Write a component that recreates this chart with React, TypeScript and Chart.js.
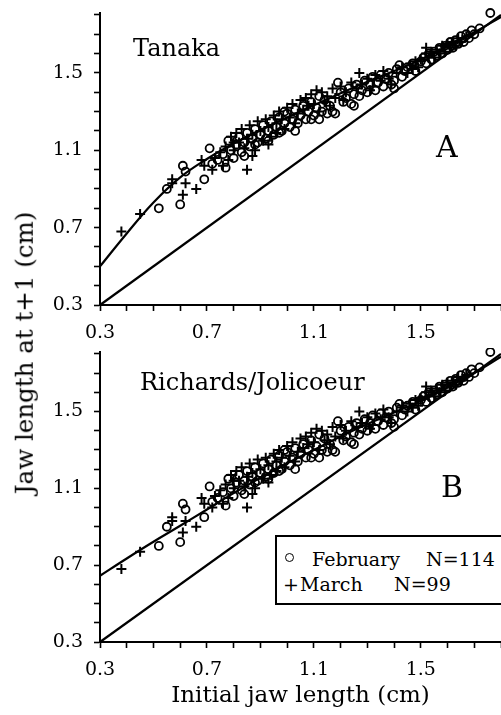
import React, { useEffect, useRef } from 'react';
import { Chart, registerables } from 'chart.js';

Chart.register(...registerables);

const FONT = '"DejaVu Serif", serif';

// Axis ticks
const xTickValues = [0.3, 0.4, 0.5, 0.6, 0.7, 0.8, 0.9, 1.0, 1.1, 1.2, 1.3, 1.4, 1.5, 1.6, 1.7, 1.8];
const yTickValues = [0.3, 0.4, 0.5, 0.6, 0.7, 0.8, 0.9, 1.0, 1.1, 1.2, 1.3, 1.4, 1.5, 1.6, 1.7, 1.8];
const xLabeledTicks = [0.3, 0.7, 1.1, 1.5];
const yLabeledTicks = [0.3, 0.7, 1.1, 1.5];

// Reference (no growth) line
const identityX = [0.3, 1.8];
const identityY = [0.3, 1.8];

// Fitted growth curves
const curveX = [0.3, 0.4, 0.5, 0.6, 0.7, 0.8, 0.9, 1.0, 1.1, 1.2, 1.3, 1.4, 1.5, 1.6, 1.7, 1.8];
const tanakaY = [0.5, 0.67, 0.83, 0.96, 1.055, 1.135, 1.205, 1.27, 1.333, 1.395, 1.455, 1.51, 1.57, 1.64, 1.71, 1.79];
const richardsY = [0.645, 0.735, 0.822, 0.905, 0.99, 1.075, 1.155, 1.23, 1.3, 1.37, 1.435, 1.495, 1.555, 1.625, 1.7, 1.785];

// February (circles), N=114
const februaryPoints: [number, number][] = [
  [0.52, 0.8], [0.55, 0.9], [0.6, 0.82], [0.62, 0.99], [0.61, 1.02], [0.69, 0.95], [0.71, 1.11], [0.72, 1.03],
  [0.74, 1.05], [0.77, 1.01], [0.78, 1.15], [0.79, 1.1], [0.8, 1.06], [0.81, 1.13], [0.82, 1.17], [0.83, 1.09],
  [0.84, 1.14], [0.85, 1.19], [0.86, 1.12], [0.87, 1.16], [0.88, 1.21], [0.89, 1.14], [0.9, 1.18], [0.91, 1.23],
  [0.92, 1.16], [0.93, 1.2], [0.94, 1.25], [0.95, 1.18], [0.96, 1.22], [0.97, 1.27], [0.98, 1.2], [0.99, 1.24],
  [1.0, 1.29], [1.01, 1.22], [1.02, 1.26], [1.03, 1.31], [1.04, 1.24], [1.05, 1.28], [1.06, 1.33], [1.07, 1.26],
  [1.08, 1.3], [1.09, 1.35], [1.1, 1.28], [1.11, 1.32], [1.12, 1.26], [1.13, 1.3], [1.14, 1.36], [1.15, 1.29],
  [1.16, 1.33], [1.17, 1.3], [1.18, 1.29], [1.19, 1.45], [1.2, 1.4], [1.21, 1.35], [1.22, 1.37], [1.23, 1.42],
  [1.24, 1.34], [1.25, 1.39], [1.26, 1.44], [1.27, 1.38], [1.28, 1.41], [1.29, 1.46], [1.3, 1.4], [1.31, 1.44],
  [1.32, 1.48], [1.33, 1.41], [1.34, 1.45], [1.35, 1.49], [1.36, 1.43], [1.37, 1.47], [1.38, 1.5], [1.39, 1.44],
  [1.4, 1.46], [1.4, 1.42], [1.41, 1.52], [1.42, 1.54], [1.43, 1.48], [1.44, 1.51], [1.45, 1.53], [1.47, 1.55],
  [1.48, 1.51], [1.5, 1.56], [1.51, 1.58], [1.52, 1.55], [1.53, 1.6], [1.54, 1.57], [1.55, 1.61], [1.56, 1.59],
  [1.57, 1.63], [1.58, 1.6], [1.59, 1.64], [1.6, 1.62], [1.61, 1.66], [1.62, 1.63], [1.63, 1.67], [1.64, 1.65],
  [1.65, 1.69], [1.66, 1.66], [1.67, 1.7], [1.68, 1.68], [1.69, 1.72], [1.7, 1.7], [1.72, 1.73], [1.76, 1.81],
  [0.88, 1.13], [0.93, 1.15], [0.97, 1.19], [0.84, 1.07], [0.76, 1.08], [1.12, 1.38], [1.25, 1.33], [1.03, 1.2],
  [0.99, 1.3], [1.09, 1.26],
];

// March (crosses), N=99
const marchPoints: [number, number][] = [
  [0.38, 0.68], [0.45, 0.77], [0.57, 0.95], [0.57, 0.93], [0.61, 0.87], [0.62, 0.93], [0.66, 0.9], [0.68, 1.05],
  [0.69, 1.02], [0.85, 1.0], [0.73, 1.06], [0.75, 1.09], [0.77, 1.12], [0.78, 1.05], [0.79, 1.17], [0.8, 1.1],
  [0.81, 1.19], [0.82, 1.14], [0.83, 1.21], [0.84, 1.11], [0.85, 1.16], [0.86, 1.23], [0.87, 1.18], [0.88, 1.1],
  [0.89, 1.25], [0.9, 1.2], [0.91, 1.15], [0.92, 1.26], [0.93, 1.22], [0.94, 1.17], [0.95, 1.28], [0.96, 1.24],
  [0.97, 1.3], [0.98, 1.26], [0.99, 1.21], [1.0, 1.32], [1.01, 1.27], [1.02, 1.34], [1.04, 1.29], [1.05, 1.36],
  [1.06, 1.31], [1.07, 1.37], [1.08, 1.33], [1.09, 1.39], [1.1, 1.34], [1.11, 1.41], [1.13, 1.4], [1.14, 1.35],
  [1.15, 1.38], [1.17, 1.42], [1.18, 1.37], [1.2, 1.43], [1.22, 1.4], [1.24, 1.45], [1.26, 1.42], [1.27, 1.5],
  [1.28, 1.44], [1.3, 1.47], [1.32, 1.43], [1.33, 1.49], [1.35, 1.46], [1.36, 1.51], [1.38, 1.47], [1.39, 1.44],
  [1.41, 1.5], [1.43, 1.53], [1.45, 1.5], [1.46, 1.54], [1.48, 1.56], [1.49, 1.53], [1.5, 1.57], [1.52, 1.63],
  [1.53, 1.58], [1.54, 1.61], [1.55, 1.58], [1.56, 1.62], [1.57, 1.6], [1.58, 1.64], [1.59, 1.61], [1.6, 1.65],
  [1.61, 1.63], [1.62, 1.66], [1.63, 1.64], [1.64, 1.68], [1.65, 1.66], [1.67, 1.69], [1.52, 1.6], [0.76, 1.02],
  [0.72, 1.0], [0.93, 1.13], [1.03, 1.24], [1.12, 1.3], [0.8, 1.14], [0.87, 1.07], [0.96, 1.19], [1.16, 1.33],
  [1.21, 1.36], [1.31, 1.41], [1.47, 1.52],
];

const tickLabel = (value: number, labeled: number[]) =>
  labeled.some((v) => Math.abs(v - value) < 1e-6) ? Number(value).toFixed(1) : '';

const zeroPadding = (s: any) => {
  s.paddingLeft = 0;
  s.paddingRight = 0;
  s.paddingTop = 0;
  s.paddingBottom = 0;
};

function makeConfig(curveY: number[], padTop: number, xAxisH: number, xTitle: string | null): any {
  const axisCommon = {
    type: 'linear',
    border: { display: true, color: '#000', width: 2 },
    grid: { drawOnChartArea: false, drawTicks: true, tickLength: 6, color: '#000', tickWidth: 1.6 },
  };
  return {
    type: 'scatter',
    data: {
      datasets: [
        {
          label: 'identity',
          data: identityX.map((x, i) => ({ x, y: identityY[i] })),
          showLine: true,
          borderColor: '#000',
          borderWidth: 2.2,
          pointRadius: 0,
          fill: false,
          clip: false,
        },
        {
          label: 'fit',
          data: curveX.map((x, i) => ({ x, y: curveY[i] })),
          showLine: true,
          borderColor: '#000',
          borderWidth: 2.2,
          pointRadius: 0,
          fill: false,
          tension: 0.4,
          clip: false,
        },
        {
          label: 'February N=114',
          data: februaryPoints.map(([x, y]) => ({ x, y })),
          pointStyle: 'circle',
          pointRadius: 4,
          pointBorderWidth: 1.8,
          pointBorderColor: '#000',
          pointBackgroundColor: 'rgba(255,255,255,0)',
          clip: false,
        },
        {
          label: 'March N=99',
          data: marchPoints.map(([x, y]) => ({ x, y })),
          pointStyle: 'cross',
          pointRadius: 5,
          pointBorderWidth: 2,
          pointBorderColor: '#000',
          clip: false,
        },
      ],
    },
    options: {
      responsive: false,
      animation: false,
      devicePixelRatio: 1,
      layout: { autoPadding: false, padding: { top: padTop, left: 0, right: 0, bottom: 0 } },
      plugins: { legend: { display: false }, tooltip: { enabled: false }, title: { display: false } },
      scales: {
        x: {
          ...axisCommon,
          min: 0.3,
          max: 1.8,
          afterBuildTicks: (s: any) => {
            s.ticks = xTickValues.map((v) => ({ value: v }));
          },
          afterFit: (s: any) => {
            s.height = xAxisH;
            zeroPadding(s);
          },
          ticks: {
            autoSkip: false,
            maxRotation: 0,
            padding: 11,
            color: '#000',
            font: { family: FONT, size: 19 },
            callback: (v: number) => tickLabel(v, xLabeledTicks),
          },
          title: {
            display: !!xTitle,
            text: xTitle || '',
            color: '#000',
            font: { family: FONT, size: 23 },
            padding: { top: 0, bottom: 5 },
          },
        },
        y: {
          ...axisCommon,
          min: 0.3,
          max: 1.81,
          afterBuildTicks: (s: any) => {
            s.ticks = yTickValues.map((v) => ({ value: v }));
          },
          afterFit: (s: any) => {
            s.width = 100;
            zeroPadding(s);
          },
          ticks: {
            autoSkip: false,
            padding: 11,
            color: '#000',
            font: { family: FONT, size: 19 },
            callback: (v: number) => tickLabel(v, yLabeledTicks),
          },
        },
      },
    },
  };
}

function Panel(props: { curveY: number[]; top: number; height: number; padTop: number; xAxisH: number; xTitle: string | null }) {
  const ref = useRef<HTMLCanvasElement>(null);
  useEffect(() => {
    const chart = new Chart(ref.current as HTMLCanvasElement, makeConfig(props.curveY, props.padTop, props.xAxisH, props.xTitle));
    return () => chart.destroy();
  }, []);
  return (
    <canvas
      ref={ref}
      width={501}
      height={props.height}
      style={{ position: 'absolute', left: 0, top: props.top, width: 501, height: props.height }}
    />
  );
}

function Txt(props: { x: number; baseline: number; size: number; children: React.ReactNode }) {
  return (
    <div
      style={{
        position: 'absolute',
        left: props.x,
        top: props.baseline - 0.846 * props.size,
        fontFamily: FONT,
        fontSize: props.size,
        lineHeight: 1,
        whiteSpace: 'pre',
        color: '#000',
      }}
    >
      {props.children}
    </div>
  );
}

export default function App() {
  return (
    <div
      style={{
        position: 'absolute',
        left: 0,
        top: 0,
        width: 501,
        height: 715,
        overflow: 'hidden',
        background: '#fff',
      }}
    >
      <Panel curveY={tanakaY} top={0} height={348} padTop={13} xAxisH={43} xTitle={null} />
      <Panel curveY={richardsY} top={348} height={367} padTop={4} xAxisH={73} xTitle="Initial jaw length (cm)" />

      <div
        style={{
          position: 'absolute',
          left: 25,
          top: 353,
          transform: 'translate(-50%, -50%) rotate(-90deg)',
          fontFamily: FONT,
          fontSize: 24.5,
          lineHeight: 1,
          whiteSpace: 'nowrap',
          color: '#000',
        }}
      >
        Jaw length at t+1 (cm)
      </div>

      <Txt x={133} baseline={56} size={24}>Tanaka</Txt>
      <Txt x={436} baseline={157} size={30}>A</Txt>
      <Txt x={140} baseline={390} size={24}>Richards/Jolicoeur</Txt>
      <Txt x={441} baseline={497} size={30}>B</Txt>

      <div
        style={{
          position: 'absolute',
          left: 275,
          top: 535,
          width: 240,
          height: 70,
          border: '2px solid #000',
          boxSizing: 'border-box',
          background: '#fff',
        }}
      />
      <div
        style={{
          position: 'absolute',
          left: 285,
          top: 553,
          width: 9,
          height: 9,
          border: '1.8px solid #000',
          borderRadius: '50%',
          boxSizing: 'border-box',
        }}
      />
      <Txt x={312} baseline={566} size={19}>February</Txt>
      <Txt x={426} baseline={566} size={19}>N=114</Txt>
      <Txt x={283} baseline={591} size={19}>+</Txt>
      <Txt x={300} baseline={591} size={19}>March</Txt>
      <Txt x={394} baseline={591} size={19}>N=99</Txt>
    </div>
  );
}
